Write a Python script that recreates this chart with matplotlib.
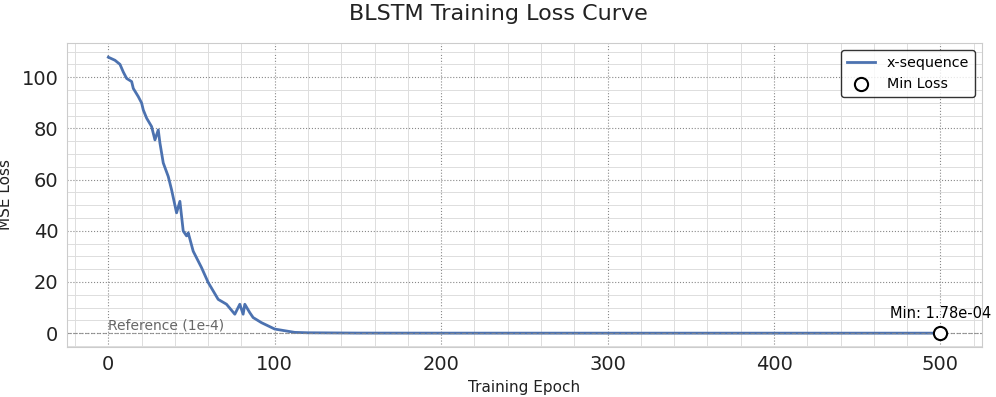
import matplotlib
matplotlib.use("Agg")
import matplotlib.pyplot as plt
from matplotlib.ticker import MultipleLocator

# epochs / loss
epochs = [0, 4, 7, 9, 11, 14, 15, 18, 20, 21, 23, 26, 28, 30, 31, 33, 36, 38,
          41, 43, 45, 47, 48, 51, 56, 60, 66, 71, 76, 79, 81, 82, 85, 87, 92,
          100, 112, 120, 150, 200, 300, 400, 500]
loss = [107.8, 106.6, 105.0, 102.0, 99.5, 98.3, 95.6, 92.4, 89.9, 87.2, 84.0,
        80.7, 75.5, 79.4, 74.3, 66.5, 61.2, 56.0, 47.0, 51.5, 39.9, 38.0, 39.2,
        32.0, 25.6, 19.8, 13.2, 11.3, 7.4, 11.3, 7.4, 11.3, 8.0, 6.1, 4.1,
        1.6, 0.3, 0.15, 0.03, 0.01, 0.002, 0.0005, 0.000178]

min_epoch = 500
min_loss = 1.78e-4
ref_loss = 1e-4

plt.rcParams['font.family'] = 'DejaVu Sans'
fig = plt.figure(figsize=(9.96, 3.97), dpi=100)
ax = fig.add_axes([0.067, 0.126, 0.919, 0.766])

ax.plot(epochs, loss, color='#4c72b0', lw=2.0, label='x-sequence')
ax.axhline(ref_loss, color='#888888', ls='--', lw=0.8, alpha=0.8)
ax.text(0, ref_loss + 0.3, 'Reference (1e-4)', color='#666666', fontsize=10,
        va='bottom', ha='left')
ax.scatter([min_epoch], [min_loss], s=90, facecolor='white', edgecolor='black',
           lw=1.5, zorder=5, label='Min Loss')
ax.annotate('Min: 1.78e-04', (min_epoch, min_loss), xytext=(0, 9),
            textcoords='offset points', ha='center', va='bottom', fontsize=10.5)

ax.set_xlim(-25, 525)
ax.set_ylim(-5.4, 113.4)
ax.xaxis.set_major_locator(MultipleLocator(100))
ax.xaxis.set_minor_locator(MultipleLocator(20))
ax.yaxis.set_major_locator(MultipleLocator(20))
ax.yaxis.set_minor_locator(MultipleLocator(5))
ax.grid(which='major', ls=':', color='#888888', lw=0.8)
ax.grid(which='minor', ls='-', color='#dddddd', lw=0.7)
ax.tick_params(which='both', length=0, labelsize=14, colors='#222222', pad=6)
for s in ax.spines.values():
    s.set_color('#cccccc')

ax.set_xlabel('Training Epoch', fontsize=11, color='#222222')
ax.set_ylabel('MSE Loss', fontsize=11, color='#222222', labelpad=6)
fig.suptitle('BLSTM Training Loss Curve', fontsize=16, color='#222222', y=0.99)

leg = ax.legend(loc='upper right', fontsize=10.3, frameon=True, fancybox=True)
leg.get_frame().set_edgecolor('black')
leg.get_frame().set_linewidth(1.0)

fig.savefig('out.png', dpi=100)
